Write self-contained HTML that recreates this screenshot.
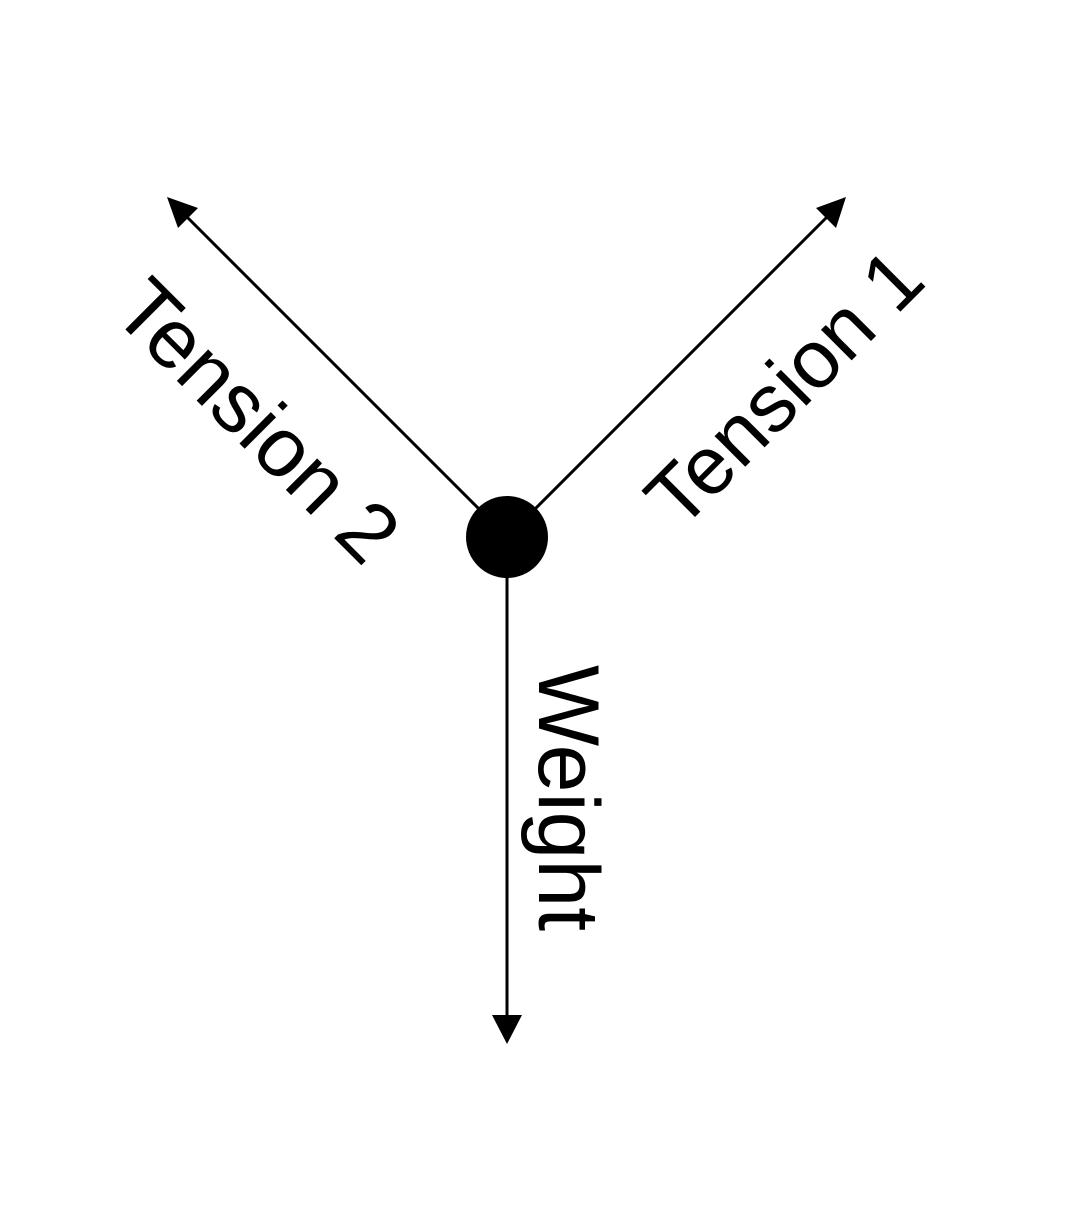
<!DOCTYPE html>
<html><head><meta charset="utf-8"><style>html,body{margin:0;padding:0;background:#fff}</style></head>
<body>
<svg width="1074" height="1200" viewBox="0 0 1074 1200" xmlns="http://www.w3.org/2000/svg">
<rect width="1074" height="1200" fill="#fff"/>
<g stroke="#000" stroke-width="3" fill="none">
<line x1="507" y1="560" x2="507" y2="1020"/>
<line x1="507" y1="537" x2="830" y2="214"/>
<line x1="507" y1="537" x2="184" y2="214"/>
</g>
<polygon points="507,1044 492,1015 522,1015" fill="#000"/>
<polygon points="846,197 836,228 816,208" fill="#000"/>
<polygon points="167,197 198,208 178,228" fill="#000"/>
<circle cx="507" cy="537" r="41" fill="#000"/>
<g font-family="Liberation Sans, sans-serif" fill="#000">
<text font-size="82" transform="translate(680,532) rotate(-45)">Tension 1</text>
<text font-size="84" transform="translate(110,314) rotate(45)">Tension 2</text>
<text font-size="86" transform="translate(539,665) rotate(90)">Weight</text>
</g>
</svg>
</body></html>
